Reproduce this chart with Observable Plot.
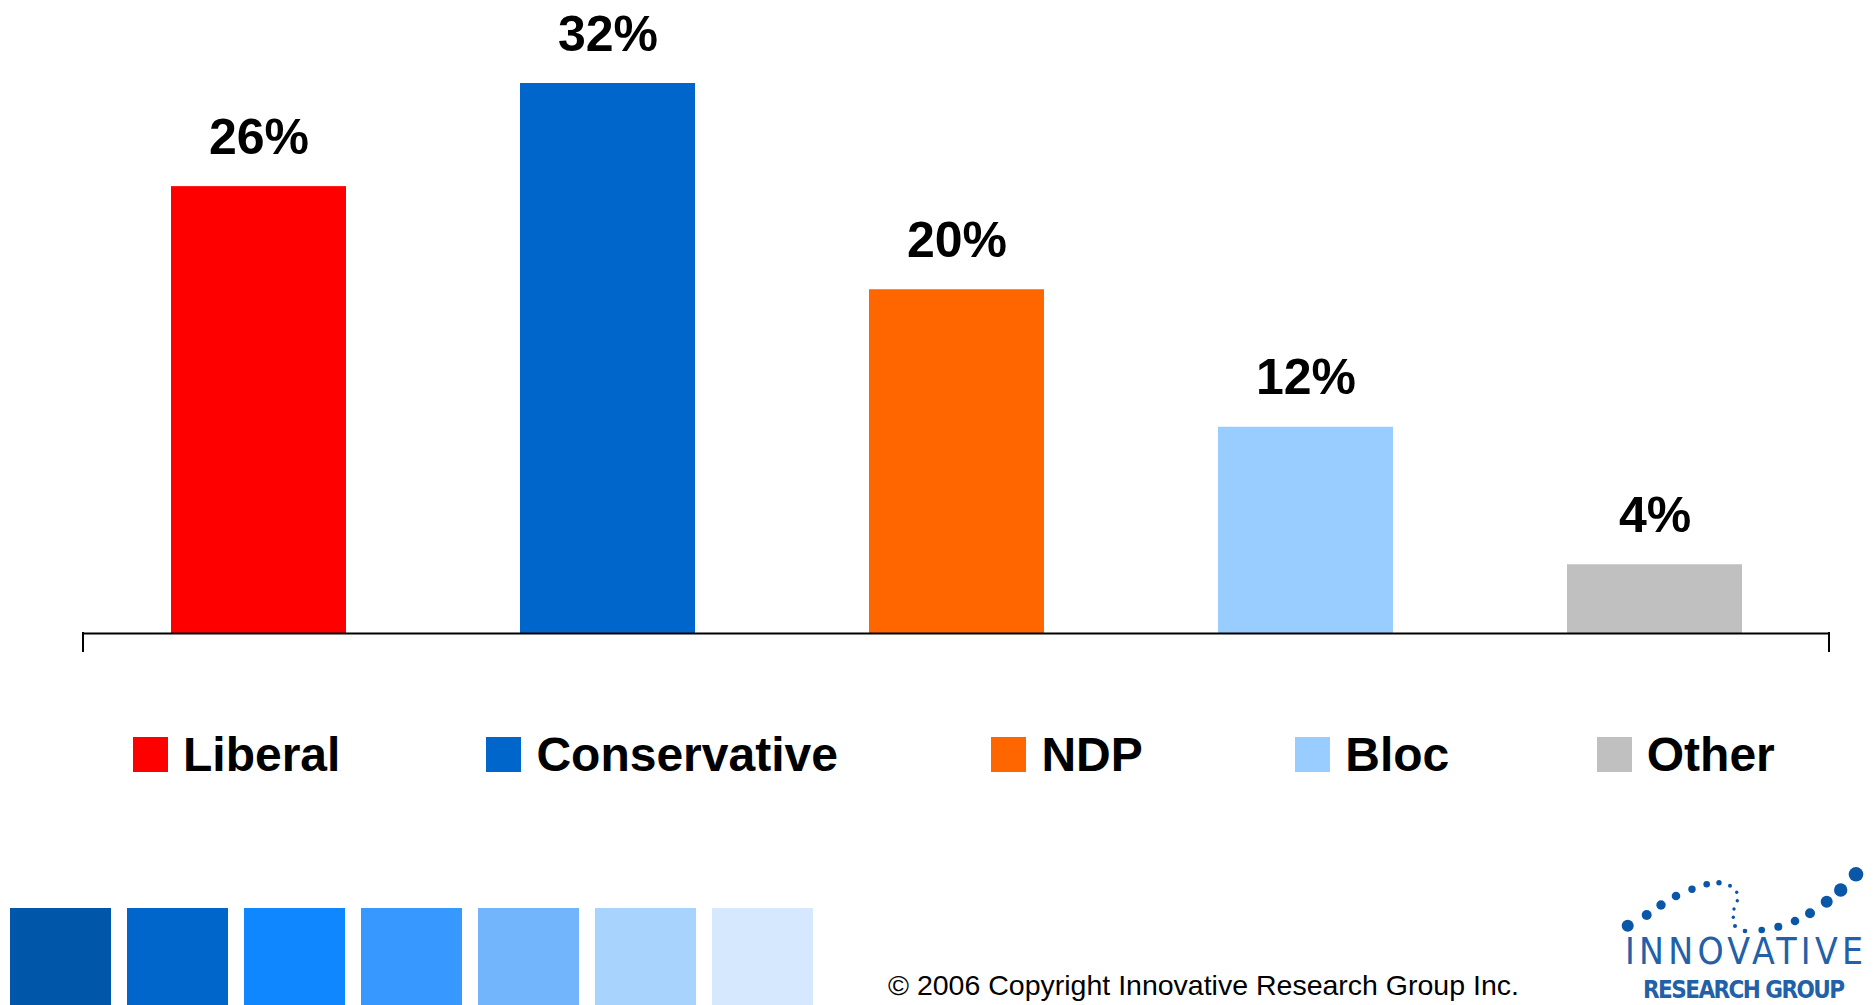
<!DOCTYPE html>
<html>
<head>
<meta charset="utf-8">
<script src="https://cdn.jsdelivr.net/npm/d3@7"></script>
<script src="https://cdn.jsdelivr.net/npm/@observablehq/plot@0.6"></script>
<style>
  html, body { margin: 0; padding: 0; background: #fff; }
  body { width: 1875px; height: 1005px; overflow: hidden; position: relative;
         font-family: "Liberation Sans", Arial, Helvetica, sans-serif; }
  #chart { position: absolute; left: 0; top: 0; }
  #legend { position: absolute; left: 133px; top: 727px; }
  #legend .lg-swatch { margin-right: 150px !important; line-height: normal; }
  #legend .lg-swatch:nth-of-type(1) { margin-right: 146px !important; }
  #legend .lg-swatch:nth-of-type(2) { margin-right: 153.5px !important; }
  #legend .lg-swatch:nth-of-type(3) { margin-right: 152.5px !important; }
  #legend .lg-swatch:nth-of-type(4) { margin-right: 147.5px !important; }
  #legend .lg-swatch:last-child { margin-right: 0 !important; }
  #legend .lg-swatch > svg { margin-right: 15px !important; }
  #squares { position: absolute; left: 10px; top: 908px; display: flex; gap: 16px; }
  #squares div { width: 101px; height: 97px; }
  #copyright { position: absolute; left: 888px; top: 971px; font-size: 28.5px; line-height: 28px;
               color: #000; white-space: nowrap; }
  #logo { position: absolute; left: 1600px; top: 860px; }
</style>
</head>
<body>
<div id="chart"></div>
<div id="legend"></div>
<div id="squares"></div>
<div id="copyright"></div>
<svg id="logo" width="275" height="145" viewBox="0 0 275 145"></svg>
<script>
// ---- Data ----
const parties = ["Liberal", "Conservative", "NDP", "Bloc", "Other"];
const shares = [26, 32, 20, 12, 4];
const partyColors = ["#FF0000", "#0066CC", "#FF6600", "#99CCFF", "#C0C0C0"];
const stripColors = ["#0056A8", "#0066CC", "#0F88FF", "#3799FF", "#72B5FC", "#A8D3FD", "#D5E8FD"];
const copyrightText = "© 2006 Copyright Innovative Research Group Inc.";

const data = parties.map((p, i) => ({party: p, value: shares[i]}));

// end ticks of the baseline, drawn from the plot's own dimensions and y scale
const endTicks = (index, scales, values, dimensions) => {
  const {width, marginLeft, marginRight} = dimensions;
  const y0 = scales.y(0);
  const g = d3.create("svg:g").attr("stroke", "#000").attr("stroke-width", 2).attr("stroke-linecap", "square");
  [marginLeft, width - marginRight].forEach(x => {
    g.append("line").attr("x1", x).attr("x2", x).attr("y1", y0).attr("y2", y0 + 18);
  });
  return g.node();
};

const plot = Plot.plot({
  width: 1875,
  height: 680,
  marginLeft: 83,
  marginRight: 46,
  marginTop: 83,
  marginBottom: 47,
  style: {fontFamily: "'Liberation Sans', Arial, Helvetica, sans-serif", background: "#fff"},
  x: {type: "band", domain: parties, paddingInner: 0.5, paddingOuter: 0.25, axis: null},
  y: {domain: [0, d3.max(shares)], axis: null},
  color: {domain: parties, range: partyColors},
  marks: [
    Plot.barY(data, {x: "party", y: "value", fill: "party"}),
    Plot.ruleY([0], {stroke: "#000", strokeWidth: 2}),
    endTicks,
    Plot.text(data, {
      x: "party", y: "value", text: d => d.value + "%",
      lineAnchor: "bottom", dy: -33, fontSize: 50, fontWeight: "bold", fill: "#000"
    })
  ]
});
document.getElementById("chart").appendChild(plot);

const legend = plot.legend("color", {
  swatchSize: 35,
  className: "lg",
  style: {fontSize: "48px", fontWeight: "bold", fontFamily: "'Liberation Sans', Arial, sans-serif", color: "#000"}
});
document.getElementById("legend").appendChild(legend);

document.getElementById("copyright").textContent = copyrightText;

// decorative colour strip
const sq = d3.select("#squares");
stripColors.forEach(c => sq.append("div").style("background", c));

// logo (decoration)
const logoDots = [
  [27.7,65.7,6],[46.7,55,5],[61,45,4.7],[76,36,4.3],[92,29.3,3.7],[106.7,24.3,3.3],[119,22.7,2.7],
  [130,25.7,2],[136.7,32.3,1.7],[137.3,40.7,1.7],[134,49,1.7],[133.3,57.3,1.7],[135,66,2],[145,71,2.3],
  [161.7,70,3.3],[178.3,66.7,4],[195,61,4.3],[210,53.3,5],[226.7,41.7,6],[240.7,30,6.7],[256,14.3,7.3]
];
const logo = d3.select("#logo");
logo.selectAll("circle").data(logoDots).join("circle")
  .attr("cx", d => d[0]).attr("cy", d => d[1]).attr("r", d => d[2]).attr("fill", "#0A57A8");
logo.append("text").attr("x", 25).attr("y", 104).attr("textLength", 238).attr("lengthAdjust", "spacing")
  .attr("font-family", "'Liberation Sans Narrow', 'DejaVu Sans Condensed', 'Liberation Sans', sans-serif")
  .attr("font-size", 37).attr("fill", "#2260A8").text("INNOVATIVE");
logo.append("text").attr("x", 43).attr("y", 138).attr("textLength", 202).attr("lengthAdjust", "spacing")
  .attr("font-family", "'Liberation Sans Narrow', 'DejaVu Sans Condensed', 'Liberation Sans', sans-serif")
  .attr("font-size", 24).attr("font-weight", "bold").attr("fill", "#2260A8").text("RESEARCH GROUP");
</script>
</body>
</html>
